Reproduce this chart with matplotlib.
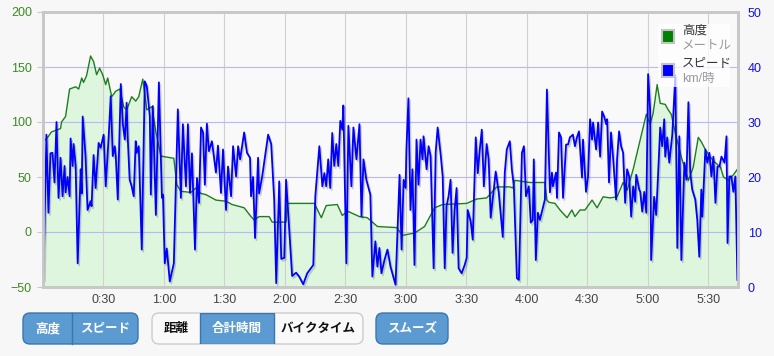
import matplotlib.pyplot as plt
import matplotlib.patheffects as pe
from matplotlib.patches import FancyBboxPatch, Rectangle
from matplotlib.ticker import FuncFormatter

plt.rcParams['font.family'] = ['Liberation Sans', 'Noto Sans CJK JP', 'DejaVu Sans']

# altitude (m) against elapsed time (minutes)
alt_min = [0.2, 2.7, 4.2, 8.7, 9.2, 11.2, 13.2, 16.2, 17.7, 19.2, 20.1, 21.6, 23.6, 25.1,
           26.6, 28.1, 29.6, 31.1, 32.1, 34.1, 36.1, 38.1, 40.0, 41.5, 44.0, 46.0, 47.5,
           49.5, 51.5, 54.0, 56.0, 58.5, 64.9, 66.4, 68.4, 73.4, 75.9, 78.4, 80.8, 85.8,
           90.8, 93.8, 99.8, 103.2, 104.7, 107.2, 112.2, 113.7, 118.7, 120.6, 121.1, 134.6,
           138.1, 140.5, 146.0, 148.5, 151.0, 157.0, 160.9, 165.9, 175.4, 178.4, 184.3,
           189.3, 194.3, 198.3, 210.2, 215.2, 220.1, 225.1, 231.6, 233.1, 234.1, 241.5,
           249.0, 250.0, 251.0, 254.0, 256.5, 260.0, 262.4, 263.9, 266.4, 268.9, 272.4,
           274.9, 277.9, 281.3, 284.8, 287.8, 289.8, 292.8, 296.3, 299.3, 301.2, 302.7,
           304.7, 306.2, 308.7, 310.2, 311.7, 313.7, 316.7, 320.2, 322.6, 325.1, 326.6,
           328.6, 331.1, 333.6, 336.1, 337.6, 340.0, 342.5, 344.5]
alt_m = [82, 87, 91, 94, 100, 105, 130, 132, 130, 140, 136, 142, 160, 155,
         143, 149, 143, 134, 140, 123, 128, 130, 114, 111, 123, 119, 123,
         139, 111, 114, 91, 69, 67, 43, 37, 36, 40, 35, 34, 29,
         28, 25, 22, 14, 11, 14, 14, 9, 9, 9, 26, 26,
         13, 24, 25, 15, 19, 14, 13, 5, 4, -3, -1,
         5, 22, 25, 26, 30, 31, 41, 41, 40, 47, 45,
         45, 29, 27, 26, 20, 13, 20, 14, 20, 20, 29,
         22, 32, 31, 32, 45, 38, 57, 84, 107, 98, 108,
         134, 117, 116, 111, 107, 90, 68, 47, 59, 86, 82,
         75, 68, 63, 59, 50, 47, 52, 57]

# speed (km/h) against elapsed time (minutes)
spd_min = [0.2, 1.7, 2.7, 3.7, 4.7, 5.7, 6.7, 7.7, 8.7, 9.7, 10.7, 11.2, 12.2, 13.2, 13.7,
           14.7, 15.2, 16.2, 17.2, 18.7, 19.2, 19.7, 21.1, 22.1, 23.6, 24.1, 25.1, 26.1,
           27.6, 28.6, 30.1, 31.1, 32.6, 33.6, 34.6, 35.6, 36.1, 37.1, 38.6, 39.6, 40.6,
           41.5, 42.0, 43.0, 44.0, 45.0, 46.0, 46.5, 47.5, 49.0, 50.5, 51.5, 53.0, 53.5,
           54.5, 56.0, 57.5, 59.0, 59.5, 60.4, 61.4, 62.9, 64.9, 66.9, 68.4, 69.4, 70.9,
           71.9, 72.9, 73.9, 75.4, 76.4, 77.4, 78.4, 79.4, 80.3, 81.3, 82.3, 83.8, 85.8,
           86.8, 88.3, 89.3, 90.8, 91.8, 93.3, 94.3, 95.8, 96.8, 97.8, 99.8, 101.2, 102.7,
           103.2, 104.2, 105.2, 106.7, 107.2, 108.7, 111.7, 113.2, 114.7, 115.7, 117.2,
           118.2, 119.7, 120.6, 123.6, 125.6, 127.1, 129.1, 131.1, 134.1, 135.1, 137.1,
           138.6, 139.6, 140.5, 141.5, 142.5, 143.5, 144.5, 145.5, 146.5, 147.5, 148.5,
           149.0, 150.5, 151.5, 153.0, 154.0, 155.5, 157.0, 158.0, 159.0, 160.4, 162.4,
           163.4, 164.9, 165.9, 166.9, 167.9, 169.4, 170.9, 172.4, 174.9, 176.9, 177.9,
           178.9, 179.9, 180.3, 181.3, 182.3, 183.3, 184.3, 185.3, 186.3, 187.3, 188.3,
           188.8, 190.3, 191.3, 192.3, 193.8, 194.8, 195.8, 197.3, 198.3, 199.3, 200.2,
           201.2, 202.2, 203.2, 204.2, 205.2, 206.2, 207.7, 209.2, 210.2, 210.7, 212.2,
           213.2, 214.7, 215.7, 216.7, 217.7, 218.7, 220.1, 221.1, 222.1, 223.1, 224.6,
           226.1, 228.1, 229.1, 230.1, 231.6, 232.6, 233.6, 235.1, 236.1, 237.6, 238.6,
           239.6, 241.0, 242.0, 243.0, 243.5, 244.5, 245.5, 246.5, 248.0, 249.0, 250.0,
           251.5, 252.5, 253.0, 254.5, 255.0, 256.0, 257.0, 258.0, 259.5, 260.5, 261.4,
           262.9, 263.9, 264.9, 265.9, 267.4, 267.9, 269.4, 270.4, 271.4, 272.4, 272.9,
           274.4, 275.4, 276.4, 277.4, 278.4, 279.4, 279.9, 280.8, 281.8, 282.8, 284.3,
           284.8, 285.8, 286.8, 287.8, 288.8, 289.8, 290.8, 291.8, 292.8, 293.8, 294.3,
           295.8, 296.3, 297.3, 298.3, 299.3, 300.2, 301.2, 301.7, 303.2, 304.2, 305.2,
           306.2, 307.2, 308.2, 308.7, 309.7, 310.7, 311.7, 312.2, 313.7, 314.7, 315.7,
           316.7, 318.2, 319.2, 320.2, 321.1, 322.1, 323.6, 324.6, 325.6, 326.6, 327.1,
           328.6, 329.6, 330.6, 331.6, 332.6, 333.6, 334.6, 335.6, 336.6, 338.1, 339.1,
           339.6, 340.5, 341.5, 342.5, 343.5, 344.5]
spd_kmh = [1.4, 27.7, 13.5, 24.3, 24.4, 19, 30, 16.2, 23.5, 16.5, 22, 17.2, 20, 16.5, 27,
           22, 26, 22, 4.3, 21.4, 17, 31, 23.8, 14, 15.6, 14.7, 24, 18,
           26.2, 25.3, 27.7, 18.3, 27.4, 34.7, 23.8, 25.6, 23.8, 15.9, 36.9, 29.6, 26.8,
           33.5, 27.4, 19.5, 18.3, 16.5, 26.5, 24.4, 25.6, 6.8, 37.4, 36.5, 31, 16.8,
           32.9, 13.1, 37.2, 16.2, 16.8, 4.3, 7, 1, 4.3, 32.3, 16.2, 29.6, 18.3,
           29.6, 17.1, 24.3, 6.8, 19.8, 15.3, 29, 28.1, 18.6, 29.7, 24.7, 26.5, 20.8,
           25.7, 17.1, 25, 14, 21.9, 16.5, 25.6, 20.1, 25.6, 23.2, 28.1, 24.4, 23.5,
           16.5, 20, 8.9, 23.5, 17, 20, 27.7, 26, 15.9, 0.7, 19.2,
           5.1, 5.3, 19.5, 2, 2.6, 1.9, 0.5, 2.5, 4, 16.5, 25.6,
           18.3, 20.7, 18.3, 23.2, 18, 28, 22, 26, 22, 30.2, 28.6,
           33, 4.3, 29.3, 18.3, 29, 23.2, 29.6, 12.8, 23.2, 19.5, 16.8,
           1.9, 8.3, 3.7, 7.1, 2.5, 4.9, 6.8, 3.7, 0.4, 20.4, 6.8,
           19.5, 18, 25, 34.3, 14, 21.4, 4, 26.8, 18.6, 26.8, 23.2,
           27.4, 21.4, 25.6, 23.8, 3.4, 24.4, 29, 24, 20.1, 3.4, 14.7,
           16.5, 19.5, 6.2, 14, 18, 3.4, 2.5, 4, 5.3, 14, 11.9,
           8.6, 27.2, 20.7, 25, 28.6, 18.3, 26, 23.2, 12.6, 15.9, 21,
           17.2, 9.1, 20.8, 25, 26.5, 21.4, 18.3, 1.6, 1.3, 24.4, 25.6,
           16.5, 18.3, 11.7, 12.2, 23.2, 4.9, 13.5, 12.2, 14.4, 15.9, 35.9,
           17.2, 20.8, 18.3, 20.8, 16.2, 28.1, 27.2, 16.2, 25.9, 25.9, 27.2,
           27.7, 25.6, 27.2, 28.3, 19.9, 26.8, 17.3, 20.1, 30.5, 26.8, 29.9,
           25, 29.9, 23.7, 31.9, 31, 29.6, 30.5, 19, 28.1, 23.7, 15.9,
           23.2, 28.3, 25.6, 24.4, 15.3, 21.4, 20.1, 12.8, 18.3, 15.5, 20.4,
           17.7, 17.3, 13.7, 17.3, 13.5, 38.7, 32.3, 4.9, 16.4, 13.1, 20.8,
           29, 25.6, 30.5, 23.7, 27.2, 22.6, 25.9, 27.7, 38.5, 7.1, 27.4,
           4.9, 22.6, 19.5, 33.6, 20.8, 17.7, 15.9, 12.2, 5.5, 17.7, 12.8,
           25, 22.6, 24.4, 20.1, 23.7, 15.3, 21.9, 21.9, 23.7, 22.6, 27.4,
           8, 20.1, 20.1, 17.3, 20.1, 1.3]

time_ticks = [30, 60, 90, 120, 150, 180, 210, 240, 270, 300, 330]
alt_ticks = [-50, 0, 50, 100, 150, 200]
spd_ticks = [0, 10, 20, 30, 40, 50]

W, H = 774, 356
fig = plt.figure(figsize=(W / 100, H / 100), dpi=100, facecolor='#f7f7f7')
ax = fig.add_axes([43 / W, 1 - 287 / H, 695 / W, 275 / H])
ax.set_facecolor('#f9f9f9')

ax.fill_between(alt_min, alt_m, -50, color='#ddf6dd', lw=0, zorder=0.2)
ax.plot(alt_min, alt_m, color='#1e7d1e', lw=1, zorder=2)
ax.set_xlim(0, 344.8)
ax.set_ylim(-50, 200)
ax.set_yticks(alt_ticks)
ax.set_xticks(time_ticks)
ax.xaxis.set_major_formatter(FuncFormatter(lambda v, p: f'{int(v) // 60}:{int(v) % 60:02d}'))
ax.set_axisbelow(True)
ax.grid(axis='y', color='#b8b8ff', lw=0.8)
ax.grid(axis='x', color='#d0d0d0', lw=0.8)
ax.tick_params(axis='y', colors='#c8c8c8', labelcolor='#3d8a25', labelsize=9, length=4, pad=4)
ax.tick_params(axis='x', labelcolor='#444444', labelsize=9, length=0, pad=5)

ax2 = ax.twinx()
ax2.plot(spd_min, spd_kmh, color='#0000ff', lw=1.3,
         path_effects=[pe.SimpleLineShadow(offset=(1, -1.5), alpha=0.18), pe.Normal()])
ax2.set_ylim(0, 50)
ax2.set_yticks(spd_ticks)
ax2.tick_params(axis='y', labelcolor='#1010ee', labelsize=9, length=0, pad=7)

for a in (ax, ax2):
    for s in a.spines.values():
        s.set_color('#c8c8c8')
        s.set_linewidth(2)

# overlay in pixel units for legend and buttons
ov = fig.add_axes([0, 0, 1, 1])
ov.set_xlim(0, W)
ov.set_ylim(H, 0)
ov.axis('off')

ov.add_patch(Rectangle((658, 24), 72, 63, fc='white', ec='none', alpha=0.75))
ov.add_patch(Rectangle((662, 30), 12, 13, fc='#008000', ec='#c4c4c4', lw=1.5))
ov.add_patch(Rectangle((662, 64), 12, 13, fc='#0000ff', ec='#c4c4c4', lw=1.5))
ov.text(682, 31, '高度', fontsize=9, color='#333333', va='center')
ov.text(682, 46, 'メートル', fontsize=9, color='#999999', va='center')
ov.text(682, 64, 'スピード', fontsize=9, color='#333333', va='center')
ov.text(682, 79, 'km/時', fontsize=9, color='#999999', va='center')

blue = '#5b9bd1'
blue_edge = '#3a76ae'


def group(x0, x1, fc, ec):
    p = FancyBboxPatch((x0, 313), x1 - x0, 31, boxstyle='round,pad=0,rounding_size=7',
                       fc=fc, ec=ec, lw=1)
    ov.add_patch(p)
    return p


group(23, 138, blue, blue_edge)
ov.plot([72, 72], [313, 344], color=blue_edge, lw=1)
ov.text(47.5, 329, '高度', fontsize=9, color='white', weight='bold', ha='center', va='center')
ov.text(105, 329, 'スピード', fontsize=9, color='white', weight='bold', ha='center', va='center')

g2 = group(152, 363, '#f9f9f9', '#cccccc')
sel = Rectangle((200, 313), 74, 31, fc=blue, ec=blue_edge, lw=1)
ov.add_patch(sel)
sel.set_clip_path(g2)
ov.text(176, 329, '距離', fontsize=9, color='#111111', weight='bold', ha='center', va='center')
ov.text(237, 329, '合計時間', fontsize=9, color='white', weight='bold', ha='center', va='center')
ov.text(318, 329, 'バイクタイム', fontsize=9, color='#111111', weight='bold', ha='center', va='center')

group(376, 448, blue, blue_edge)
ov.text(412, 329, 'スムーズ', fontsize=9, color='white', weight='bold', ha='center', va='center')

fig.savefig('out.png', dpi=100, facecolor=fig.get_facecolor())
